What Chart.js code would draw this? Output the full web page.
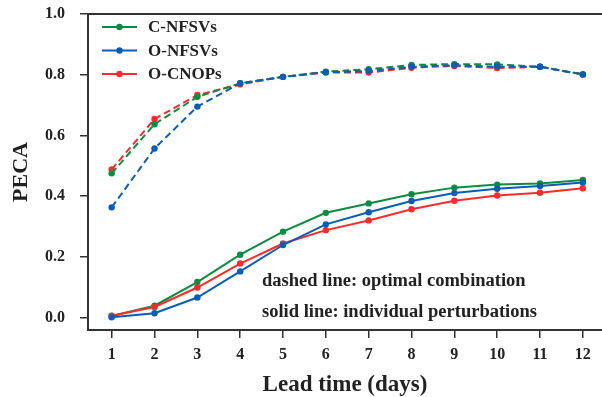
<!DOCTYPE html>
<html>
<head>
<meta charset="utf-8">
<script src="https://cdn.jsdelivr.net/npm/chart.js@4"></script>
<style>
  html, body { margin: 0; padding: 0; background: #fff; }
  #wrap { width: 602px; height: 397px; }
</style>
</head>
<body>
<div id="wrap"><canvas id="chart"></canvas></div>
<script>
// lead time axis
const days = [1, 2, 3, 4, 5, 6, 7, 8, 9, 10, 11, 12];
const yTicks = [0.0, 0.2, 0.4, 0.6, 0.8, 1.0];

const seriesNames = ["C-NFSVs", "O-NFSVs", "O-CNOPs"];

// solid lines: individual perturbations
const cnfsvsSingle = [0.005, 0.039, 0.117, 0.207, 0.283, 0.345, 0.376, 0.406, 0.428, 0.438, 0.442, 0.453];
const onfsvsSingle = [0.001, 0.014, 0.066, 0.152, 0.239, 0.307, 0.347, 0.384, 0.410, 0.424, 0.433, 0.445];
const ocnopsSingle = [0.006, 0.035, 0.099, 0.178, 0.244, 0.288, 0.320, 0.357, 0.385, 0.402, 0.411, 0.426];

// dashed lines: optimal combination
const cnfsvsCombo = [0.475, 0.637, 0.727, 0.772, 0.793, 0.810, 0.818, 0.832, 0.835, 0.834, 0.826, 0.801];
const onfsvsCombo = [0.363, 0.557, 0.695, 0.772, 0.793, 0.808, 0.812, 0.826, 0.831, 0.826, 0.826, 0.801];
const ocnopsCombo = [0.488, 0.654, 0.733, 0.768, 0.793, 0.807, 0.807, 0.823, 0.829, 0.822, 0.826, 0.801];

const notes = ["dashed line: optimal combination", "solid line: individual perturbations"];

const colors = ["#0e8a43", "#0b5cb5", "#fd2c2c"];
const FONT = "'Liberation Serif', 'Times New Roman', serif";
const AXIS = "#333333";

function toPoints(values) {
  return days.map((d, i) => ({ x: d, y: values[i] }));
}

function lineSet(label, values, color, dashed) {
  return {
    label: label,
    data: toPoints(values),
    borderColor: color,
    backgroundColor: color,
    borderWidth: 2,
    borderDash: dashed ? [7, 4] : [],
    pointRadius: 3.2,
    pointBorderWidth: 0,
    pointBackgroundColor: color,
    tension: 0,
    fill: false
  };
}

const datasets = [
  lineSet(seriesNames[1], onfsvsCombo, colors[1], true),
  lineSet(seriesNames[0], cnfsvsCombo, colors[0], true),
  lineSet(seriesNames[2], ocnopsCombo, colors[2], true),
  lineSet(seriesNames[1], onfsvsSingle, colors[1], false),
  lineSet(seriesNames[2], ocnopsSingle, colors[2], false),
  lineSet(seriesNames[0], cnfsvsSingle, colors[0], false)
];

// top frame line, legend and the two notes
const extras = {
  id: "extras",
  afterDraw(chart) {
    const ctx = chart.ctx;
    const area = chart.chartArea;
    ctx.save();
    ctx.strokeStyle = AXIS;
    ctx.lineWidth = 2;
    ctx.beginPath();
    ctx.moveTo(area.left, area.top);
    ctx.lineTo(area.right, area.top);
    ctx.stroke();

    // legend
    const rows = [27, 50.5, 74];
    ctx.font = "bold 17px " + FONT;
    ctx.textBaseline = "middle";
    ctx.textAlign = "left";
    seriesNames.forEach((name, i) => {
      const y = rows[i];
      ctx.strokeStyle = colors[i];
      ctx.lineWidth = 2;
      ctx.beginPath();
      ctx.moveTo(102, y);
      ctx.lineTo(137, y);
      ctx.stroke();
      ctx.fillStyle = colors[i];
      ctx.beginPath();
      ctx.arc(119.5, y, 3.2, 0, Math.PI * 2);
      ctx.fill();
      ctx.fillStyle = "#222";
      ctx.fillText(name, 148, y + 1);
    });

    // notes
    ctx.font = "bold 18.5px " + FONT;
    ctx.fillText(notes[0], 262, 281);
    ctx.fillText(notes[1], 262, 312);
    ctx.restore();
  }
};

new Chart(document.getElementById("chart"), {
  type: "line",
  data: { datasets: datasets },
  plugins: [extras],
  options: {
    responsive: true,
    maintainAspectRatio: false,
    animation: false,
    layout: { autoPadding: false, padding: { top: 14, right: 0, left: 0, bottom: 0 } },
    plugins: {
      legend: { display: false },
      tooltip: { enabled: false }
    },
    scales: {
      x: {
        type: "linear",
        min: 0.447,
        max: 12.447,
        afterBuildTicks: (scale) => { scale.ticks = days.map(v => ({ value: v })); },
        afterFit: (scale) => {
          scale.height = 67;
          scale.paddingLeft = 0;
          scale.paddingRight = 0;
        },
        grid: {
          drawOnChartArea: false,
          tickLength: 8,
          tickColor: AXIS,
          lineWidth: 1.5
        },
        border: { color: AXIS, width: 2 },
        ticks: {
          color: "#222",
          padding: 7,
          maxRotation: 0,
          font: { family: FONT, size: 16, weight: "bold" }
        },
        title: {
          display: true,
          text: "Lead time (days)",
          color: "#222",
          padding: { top: 0, bottom: -2 },
          font: { family: FONT, size: 23, weight: "bold" }
        }
      },
      y: {
        min: -0.041,
        max: 1.0,
        afterBuildTicks: (scale) => { scale.ticks = yTicks.map(v => ({ value: v })); },
        afterFit: (scale) => {
          scale.width = 88;
          scale.paddingTop = 0;
          scale.paddingBottom = 0;
        },
        grid: {
          drawOnChartArea: false,
          tickLength: 8,
          tickColor: AXIS,
          lineWidth: 1.5
        },
        border: { color: AXIS, width: 2 },
        ticks: {
          color: "#222",
          padding: 15,
          callback: (v) => v.toFixed(1),
          font: { family: FONT, size: 16, weight: "bold" }
        },
        title: {
          display: true,
          text: "PECA",
          color: "#222",
          padding: { top: 8, bottom: 0 },
          font: { family: FONT, size: 22, weight: "bold" }
        }
      }
    }
  }
});
</script>
</body>
</html>
